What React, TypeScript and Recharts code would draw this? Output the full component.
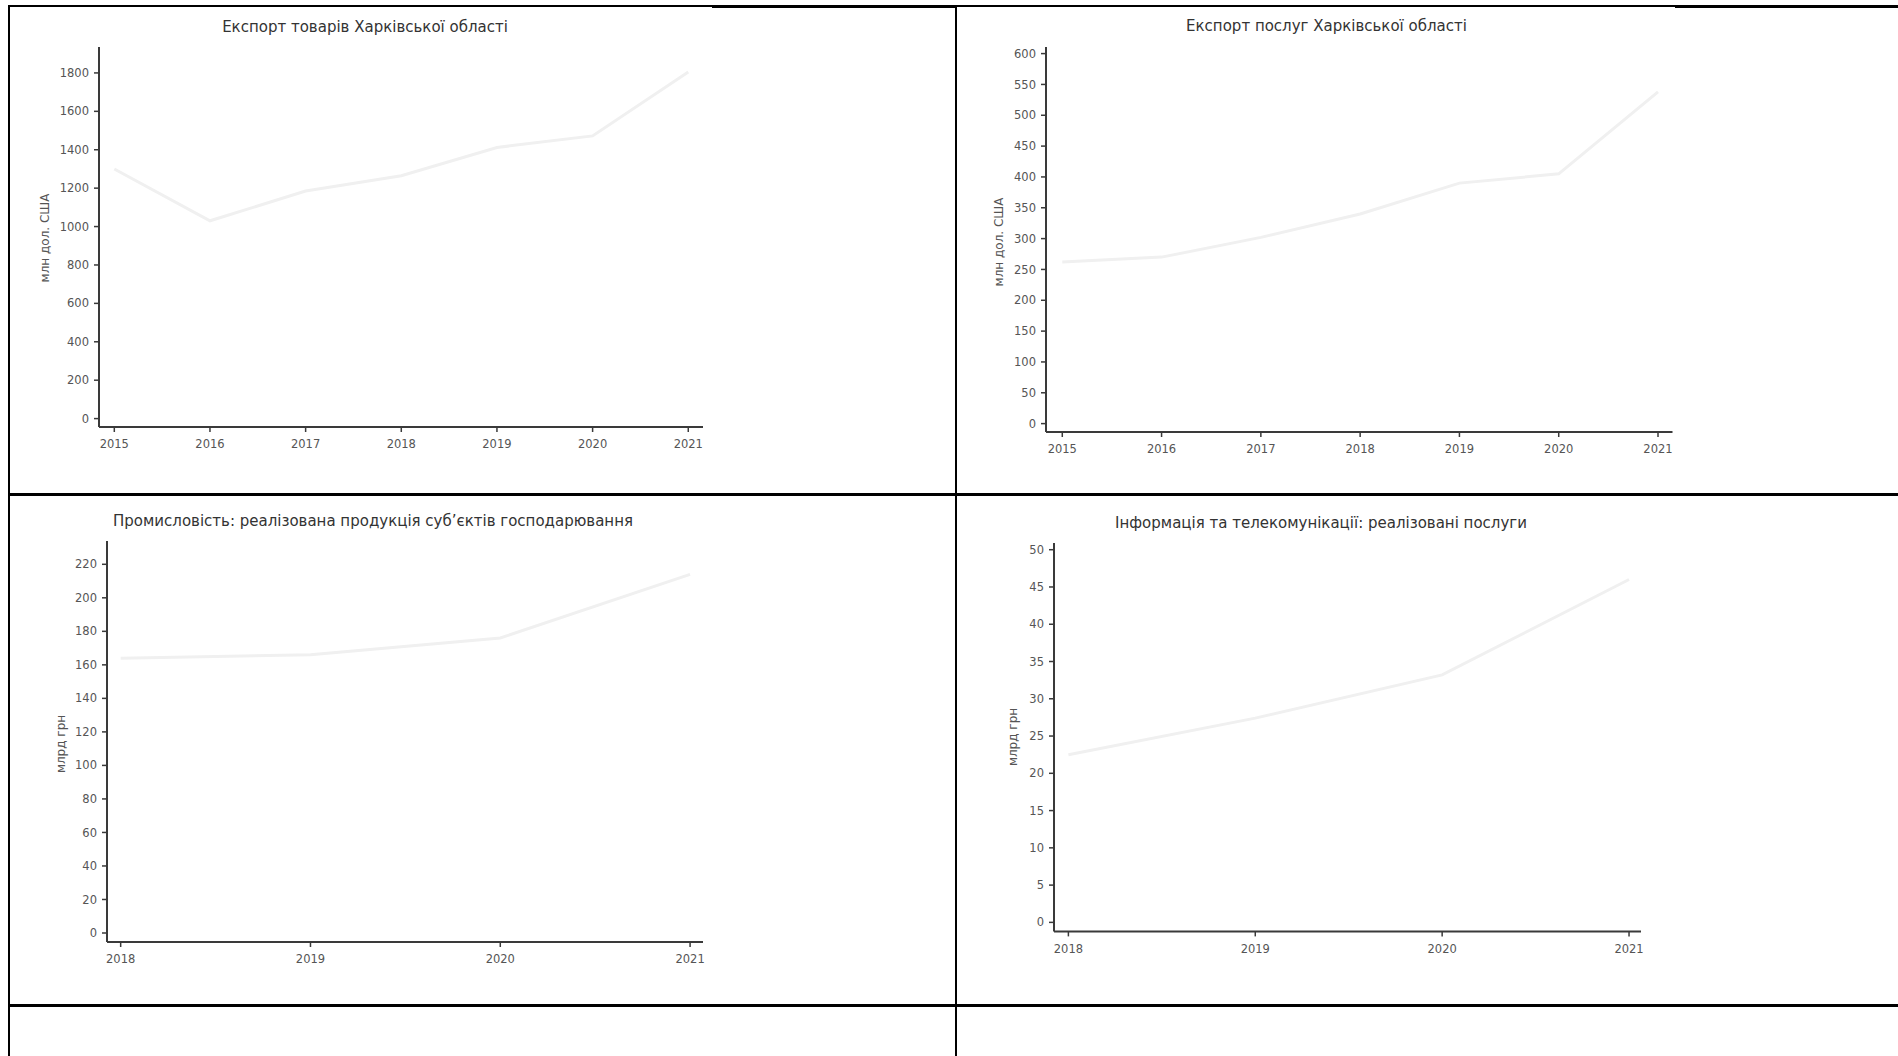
import React from 'react';
import { LineChart, Line, XAxis, YAxis } from 'recharts';

// ---- data ----
const yearsA = [2015, 2016, 2017, 2018, 2019, 2020, 2021];
const goodsExport = [1300, 1030, 1185, 1265, 1412, 1472, 1805];
const servicesExport = [262, 270, 302, 340, 390, 405, 538];
const yearsB = [2018, 2019, 2020, 2021];
const industrySales = [164, 166, 176, 214];
const ictServices = [22.5, 27.4, 33.2, 46];

const ticksGoods = [0, 200, 400, 600, 800, 1000, 1200, 1400, 1600, 1800];
const ticksServices = [0, 50, 100, 150, 200, 250, 300, 350, 400, 450, 500, 550, 600];
const ticksIndustry = [0, 20, 40, 60, 80, 100, 120, 140, 160, 180, 200, 220];
const ticksIct = [0, 5, 10, 15, 20, 25, 30, 35, 40, 45, 50];

const titles = [
  'Експорт товарів Харківської області',
  'Експорт послуг Харківської області',
  'Промисловість: реалізована продукція суб\u2019єктів господарювання',
  'Інформація та телекомунікації: реалізовані послуги',
];
const yTitles = ['млн дол. США', 'млн дол. США', 'млрд грн', 'млрд грн'];

const build = (xs: number[], ys: number[]) => xs.map((x, i) => ({ year: x, v: ys[i] }));

const FONT = '"DejaVu Sans", Verdana, sans-serif';

type PanelCfg = {
  data: { year: number; v: number }[];
  title: string;
  yTitle: string;
  plot: [number, number, number, number];
  xDomain: [number, number];
  yDomain: [number, number];
  xTicks: number[];
  yTicks: number[];
  titlePos: [number, number];
  yTitlePos: [number, number];
};

const panels: PanelCfg[] = [
  {
    data: build(yearsA, goodsExport), title: titles[0], yTitle: yTitles[0],
    plot: [99, 46.7, 703, 426.7], xDomain: [2014.84, 2021.154], yDomain: [-43.75, 1935],
    xTicks: yearsA, yTicks: ticksGoods, titlePos: [365, 27], yTitlePos: [45, 238],
  },
  {
    data: build(yearsA, servicesExport), title: titles[1], yTitle: yTitles[1],
    plot: [1046, 46.7, 1672.5, 431.7], xDomain: [2014.836, 2021.146], yDomain: [-13.6, 610.7],
    xTicks: yearsA, yTicks: ticksServices, titlePos: [1326.5, 26], yTitlePos: [999, 242],
  },
  {
    data: build(yearsB, industrySales), title: titles[2], yTitle: yTitles[2],
    plot: [107, 540.7, 703, 941.7], xDomain: [2017.928, 2021.068], yDomain: [-5.37, 233.9],
    xTicks: yearsB, yTicks: ticksIndustry, titlePos: [373, 521], yTitlePos: [61, 744],
  },
  {
    data: build(yearsB, ictServices), title: titles[3], yTitle: yTitles[3],
    plot: [1054, 543.3, 1641, 931.7], xDomain: [2017.923, 2021.064], yDomain: [-1.21, 50.9],
    xTicks: yearsB, yTicks: ticksIct, titlePos: [1321, 523], yTitlePos: [1013, 737],
  },
];

const LEFT_ROOM = 90;
const TOP_ROOM = 10;
const RIGHT_ROOM = 10;
const BOTTOM_ROOM = 40;

const tickStyle = { fontFamily: FONT, fontSize: 11.5, fill: '#555' };
const axisLine = { stroke: '#3a3a3a', strokeWidth: 2 };
const tickLine = { stroke: '#3a3a3a', strokeWidth: 1.5 };

function Panel({ cfg }: { cfg: PanelCfg }) {
  const [x1, y1, x2, y2] = cfg.plot;
  const w = x2 - x1 + LEFT_ROOM + RIGHT_ROOM;
  const h = y2 - y1 + TOP_ROOM + BOTTOM_ROOM;
  return (
    <>
      <div
        style={{
          position: 'absolute', left: cfg.titlePos[0], top: cfg.titlePos[1],
          transform: 'translate(-50%, -50%)', whiteSpace: 'nowrap',
          fontFamily: FONT, fontSize: 15, color: '#333',
        }}
      >
        {cfg.title}
      </div>
      <div
        style={{
          position: 'absolute', left: cfg.yTitlePos[0], top: cfg.yTitlePos[1],
          transform: 'translate(-50%, -50%) rotate(-90deg)', whiteSpace: 'nowrap',
          fontFamily: FONT, fontSize: 12, color: '#555',
        }}
      >
        {cfg.yTitle}
      </div>
      <div style={{ position: 'absolute', left: x1 - LEFT_ROOM, top: y1 - TOP_ROOM }}>
        <LineChart
          width={w}
          height={h}
          data={cfg.data}
          margin={{ top: TOP_ROOM, right: RIGHT_ROOM, left: 0, bottom: 0 }}
        >
          <XAxis
            dataKey="year"
            type="number"
            domain={cfg.xDomain}
            ticks={cfg.xTicks}
            allowDataOverflow
            height={BOTTOM_ROOM}
            tick={tickStyle}
            axisLine={axisLine}
            tickLine={tickLine}
            tickSize={5}
            tickMargin={8}
            interval={0}
          />
          <YAxis
            type="number"
            domain={cfg.yDomain}
            ticks={cfg.yTicks}
            allowDataOverflow
            width={LEFT_ROOM}
            tick={tickStyle}
            axisLine={axisLine}
            tickLine={tickLine}
            tickSize={5}
            tickMargin={5}
            interval={0}
          />
          <Line
            type="linear"
            dataKey="v"
            stroke="#f0f0f0"
            strokeWidth={3}
            dot={false}
            isAnimationActive={false}
          />
        </LineChart>
      </div>
    </>
  );
}

const rule = (left: number, top: number, width: number, height: number) => (
  <div style={{ position: 'absolute', left, top, width, height, background: '#000' }} />
);

export default function App() {
  return (
    <div style={{ position: 'absolute', left: 0, top: 0, width: 1898, height: 1056, background: '#fff', overflow: 'hidden' }}>
      {/* table grid */}
      {rule(8, 5, 704, 2)}
      {rule(712, 5, 244, 3)}
      {rule(957, 5, 718, 2)}
      {rule(1675, 5, 223, 3)}
      {rule(8, 5, 2, 1051)}
      {rule(955, 5, 2, 1051)}
      {rule(8, 493, 1890, 2.5)}
      {rule(8, 1004, 1890, 2.5)}
      {panels.map((p, i) => (
        <Panel key={i} cfg={p} />
      ))}
    </div>
  );
}
